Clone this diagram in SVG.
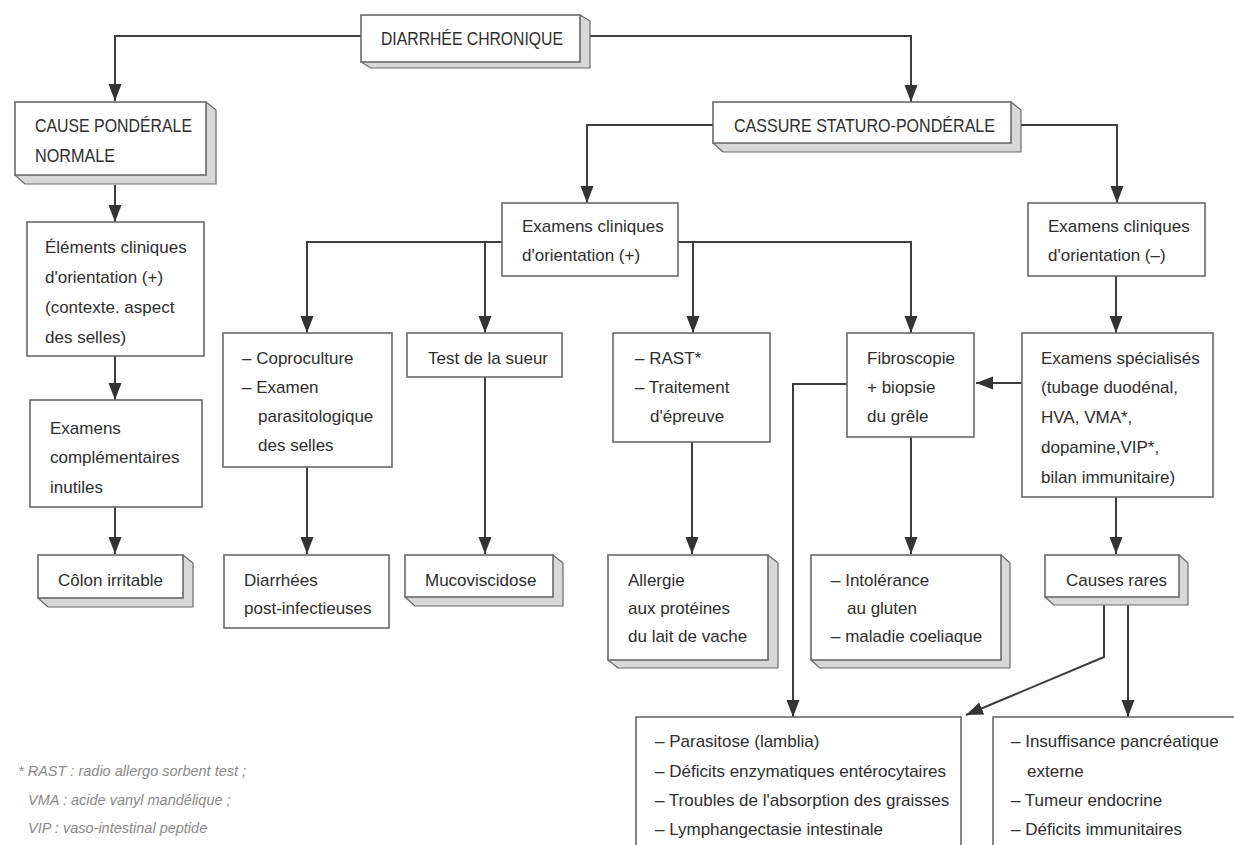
<svg xmlns="http://www.w3.org/2000/svg" width="1234" height="845" viewBox="0 0 1234 845">
  <style>
    .box { fill:#ffffff; stroke:#6a6a6a; stroke-width:1.6; }
    .side { fill:#d8d8d8; stroke:#6a6a6a; stroke-width:1.2; stroke-linejoin:round; }
    .t { font-family:"Liberation Sans", Arial, sans-serif; font-size:17px; fill:#2e2e2e; }
    .cap { font-size:19px; }
    .note { font-family:"Liberation Sans", Arial, sans-serif; font-style:italic; font-size:14.5px; fill:#8a8a8a; }
    .wire { fill:none; stroke:#3d3d3d; stroke-width:2; }
    .arr { marker-end:url(#head); }
  </style>
  <defs>
    <marker id="head" markerUnits="userSpaceOnUse" markerWidth="18" markerHeight="14" refX="17" refY="7" orient="auto">
      <path d="M0,0.5 L17,7 L0,13.5 z" fill="#333333"/>
    </marker>
  </defs>
  <rect width="1234" height="845" fill="#fefefe"/>

  <!-- connectors -->
  <g id="connectors">
    <path class="wire arr" d="M361,36 H115 V101"/>
    <path class="wire arr" d="M580,36 H911 V102"/>
    <path class="wire arr" d="M713,125 H587 V203"/>
    <path class="wire arr" d="M1021,125 H1117 V203"/>
    <path class="wire arr" d="M115,185 V222"/>
    <path class="wire arr" d="M115,356 V400"/>
    <path class="wire arr" d="M115,507 V554"/>
    <path class="wire arr" d="M502,242 H307 V333"/>
    <path class="wire arr" d="M485,242 V333"/>
    <path class="wire arr" d="M678,242 H911 V333"/>
    <path class="wire arr" d="M693,242 V333"/>
    <path class="wire arr" d="M1116,276 V333"/>
    <path class="wire arr" d="M1022,383 H976"/>
    <path class="wire arr" d="M847,384 H793 V717"/>
    <path class="wire arr" d="M307,467 V554"/>
    <path class="wire arr" d="M485,377 V554"/>
    <path class="wire arr" d="M692,442 V554"/>
    <path class="wire arr" d="M911,437 V554"/>
    <path class="wire arr" d="M1116,497 V554"/>
    <path class="wire arr" d="M1104,605 V657 L966,715"/>
    <path class="wire arr" d="M1128,605 V717"/>
  </g>

  <!-- top level -->
  <g id="diarrhee-chronique">
    <polygon class="side" points="580,15 590,21 590,68 371,68 361,62"/>
    <rect class="box" x="361" y="15" width="219" height="47"/>
    <text class="t cap" x="381" y="45" textLength="182" lengthAdjust="spacingAndGlyphs">DIARRHÉE CHRONIQUE</text>
  </g>

  <g id="cause-ponderale">
    <polygon class="side" points="206,102 216,110 216,184 25,184 15,175"/>
    <rect class="box" x="15" y="102" width="191" height="73"/>
    <text class="t cap" x="35" y="132" textLength="157" lengthAdjust="spacingAndGlyphs">CAUSE PONDÉRALE</text>
    <text class="t cap" x="35" y="162" textLength="80" lengthAdjust="spacingAndGlyphs">NORMALE</text>
  </g>

  <g id="cassure">
    <polygon class="side" points="1011,102 1021,110 1021,152 723,152 713,143"/>
    <rect class="box" x="713" y="102" width="298" height="41"/>
    <text class="t cap" x="734" y="132" textLength="261" lengthAdjust="spacingAndGlyphs">CASSURE STATURO-PONDÉRALE</text>
  </g>

  <!-- left column -->
  <g id="elements-cliniques">
    <rect class="box" x="27" y="222" width="177" height="134"/>
    <text class="t" x="45" y="253">Éléments cliniques</text>
    <text class="t" x="45" y="283">d'orientation (+)</text>
    <text class="t" x="45" y="313">(contexte. aspect</text>
    <text class="t" x="45" y="343">des selles)</text>
  </g>

  <g id="examens-inutiles">
    <rect class="box" x="30" y="400" width="172" height="107"/>
    <text class="t" x="50" y="434">Examens</text>
    <text class="t" x="50" y="463">complémentaires</text>
    <text class="t" x="50" y="493">inutiles</text>
  </g>

  <g id="colon-irritable">
    <polygon class="side" points="183,555 193,563 193,607 48,607 38,598"/>
    <rect class="box" x="38" y="555" width="145" height="43"/>
    <text class="t" x="58" y="586">Côlon irritable</text>
  </g>

  <!-- positive orientation branch -->
  <g id="examens-plus">
    <rect class="box" x="502" y="203" width="176" height="73"/>
    <text class="t" x="522" y="232">Examens cliniques</text>
    <text class="t" x="522" y="261">d'orientation (+)</text>
  </g>

  <g id="coproculture">
    <rect class="box" x="223" y="333" width="169" height="134"/>
    <text class="t" x="242" y="364">– Coproculture</text>
    <text class="t" x="242" y="393">– Examen</text>
    <text class="t" x="258" y="422">parasitologique</text>
    <text class="t" x="258" y="451">des selles</text>
  </g>

  <g id="diarrhees-post">
    <rect class="box" x="224" y="555" width="165" height="73"/>
    <text class="t" x="244" y="586">Diarrhées</text>
    <text class="t" x="244" y="614">post-infectieuses</text>
  </g>

  <g id="test-sueur">
    <rect class="box" x="407" y="333" width="155" height="44"/>
    <text class="t" x="428" y="364">Test de la sueur</text>
  </g>

  <g id="mucoviscidose">
    <polygon class="side" points="553,555 563,563 563,606 415,606 405,597"/>
    <rect class="box" x="405" y="555" width="148" height="42"/>
    <text class="t" x="425" y="586">Mucoviscidose</text>
  </g>

  <g id="rast">
    <rect class="box" x="613" y="333" width="157" height="109"/>
    <text class="t" x="635" y="364">– RAST*</text>
    <text class="t" x="635" y="393">– Traitement</text>
    <text class="t" x="650" y="422">d'épreuve</text>
  </g>

  <g id="allergie">
    <polygon class="side" points="768,555 778,563 778,668 618,668 608,660"/>
    <rect class="box" x="608" y="555" width="160" height="105"/>
    <text class="t" x="628" y="586">Allergie</text>
    <text class="t" x="628" y="614">aux protéines</text>
    <text class="t" x="628" y="642">du lait de vache</text>
  </g>

  <g id="fibroscopie">
    <rect class="box" x="847" y="333" width="127" height="104"/>
    <text class="t" x="867" y="364">Fibroscopie</text>
    <text class="t" x="867" y="393">+ biopsie</text>
    <text class="t" x="867" y="422">du grêle</text>
  </g>

  <g id="intolerance">
    <polygon class="side" points="1001,555 1010,563 1010,668 820,668 811,660"/>
    <rect class="box" x="811" y="555" width="190" height="105"/>
    <text class="t" x="831" y="586">– Intolérance</text>
    <text class="t" x="847" y="614">au gluten</text>
    <text class="t" x="831" y="642">– maladie coeliaque</text>
  </g>

  <!-- negative orientation branch -->
  <g id="examens-moins">
    <rect class="box" x="1028" y="203" width="177" height="73"/>
    <text class="t" x="1048" y="232">Examens cliniques</text>
    <text class="t" x="1048" y="261">d'orientation (–)</text>
  </g>

  <g id="examens-specialises">
    <rect class="box" x="1022" y="333" width="191" height="164"/>
    <text class="t" x="1041" y="364">Examens spécialisés</text>
    <text class="t" x="1041" y="393">(tubage duodénal,</text>
    <text class="t" x="1041" y="423">HVA, VMA*,</text>
    <text class="t" x="1041" y="453">dopamine,VIP*,</text>
    <text class="t" x="1041" y="483">bilan immunitaire)</text>
  </g>

  <g id="causes-rares">
    <polygon class="side" points="1179,555 1188,563 1188,605 1054,605 1045,597"/>
    <rect class="box" x="1045" y="555" width="134" height="42"/>
    <text class="t" x="1066" y="586">Causes rares</text>
  </g>

  <!-- bottom outcomes -->
  <g id="parasitose">
    <rect class="box" x="636" y="717" width="325" height="150"/>
    <text class="t" x="655" y="747">– Parasitose (lamblia)</text>
    <text class="t" x="655" y="777">– Déficits enzymatiques entérocytaires</text>
    <text class="t" x="655" y="806">– Troubles de l'absorption des graisses</text>
    <text class="t" x="655" y="835">– Lymphangectasie intestinale</text>
  </g>

  <g id="insuffisance">
    <rect class="box" x="993" y="717" width="270" height="150"/>
    <text class="t" x="1011" y="747">– Insuffisance pancréatique</text>
    <text class="t" x="1027" y="777">externe</text>
    <text class="t" x="1011" y="806">– Tumeur endocrine</text>
    <text class="t" x="1011" y="835">– Déficits immunitaires</text>
  </g>

  <!-- abbreviations -->
  <g id="notes">
    <text class="note" x="18" y="776">* RAST : radio allergo sorbent test ;</text>
    <text class="note" x="28" y="805">VMA : acide vanyl mandélique ;</text>
    <text class="note" x="28" y="833">VIP : vaso-intestinal peptide</text>
  </g>
</svg>
